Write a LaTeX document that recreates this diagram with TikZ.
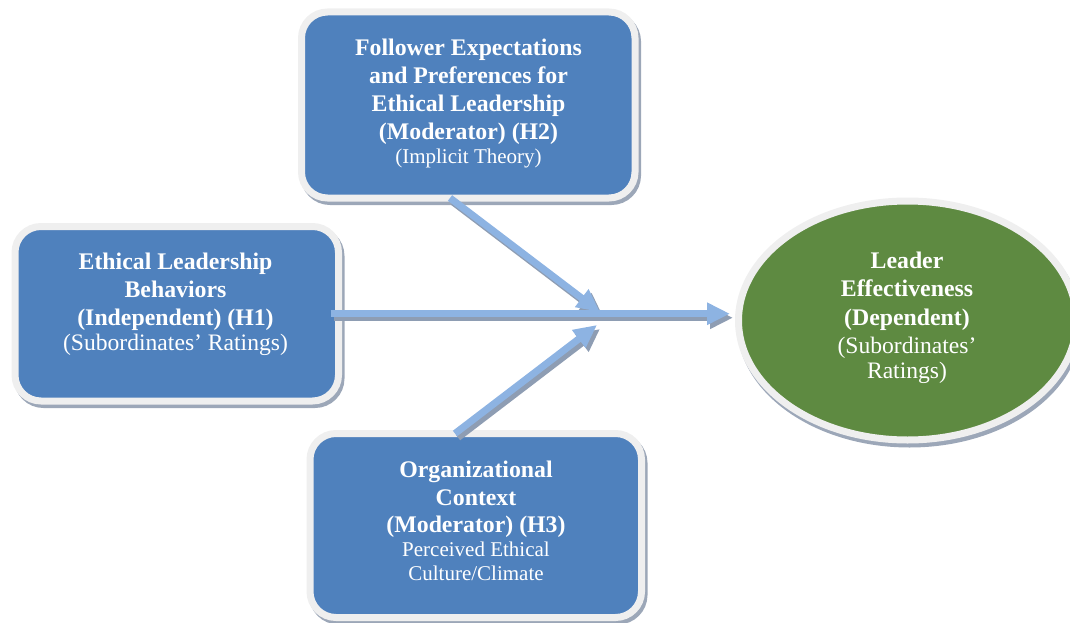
\documentclass[tikz,border=0pt]{standalone}
\usepackage{fontspec}
\setmainfont{Liberation Serif}
\usetikzlibrary{shapes.geometric,arrows.meta,backgrounds}

\definecolor{boxblue}{HTML}{4F81BD}
\definecolor{boxgreen}{HTML}{5E8A41}
\definecolor{rimgrey}{HTML}{EFEFEF}
\definecolor{shadegrey}{HTML}{9CA7B8}
\definecolor{arrowblue}{HTML}{8DB3E2}
\definecolor{arrowshade}{HTML}{8E9DB3}

\newcommand{\regline}{\mdseries\fontsize{21}{25}\selectfont}
\newcommand{\regbig}{\mdseries\fontsize{23.6}{28}\selectfont}

\tikzset{
  panel/.style={rectangle, rounded corners=26pt, fill=boxblue, draw=rimgrey,
    line width=7pt, outer sep=0pt, inner sep=0pt},
  panelshade/.style={fill=shadegrey, draw=shadegrey, line width=7pt, rounded corners=26pt},
  oval/.style={ellipse, fill=boxgreen, draw=rimgrey, line width=7pt,
    outer sep=0pt, inner sep=0pt},
  caption/.style={text=white, align=center, inner sep=0pt,
    font=\fontsize{23.8}{28}\selectfont\bfseries},
  flow/.style={draw=arrowblue, line width=7pt, -{Triangle[length=23pt,width=21pt]}},
  flowshade/.style={draw=arrowshade, line width=7pt, -{Triangle[length=23pt,width=21pt]}}
}

\begin{document}
\begin{tikzpicture}[x=1pt,y=-1pt]
\useasboundingbox (0,0) rectangle (1070,623);

% boxes and the outcome oval
\node[panel, minimum width=333.5pt, minimum height=186pt] (tb) at (468.25,105) {};
\node[panel, minimum width=323.5pt, minimum height=174.5pt] (lb) at (176.75,313.75) {};
\node[panel, minimum width=331.5pt, minimum height=184pt] (bb) at (475.75,525.5) {};
\node[oval, minimum width=338pt, minimum height=239pt] (le) at (907.5,320.5) {};

% soft drop shadows behind the shapes
\begin{scope}[on background layer]
  \foreach \b in {tb,lb,bb}{
    \path[panelshade] ([shift={(2.5,3.5)}]\b.south west) rectangle ([shift={(2.5,3.5)}]\b.north east);
  }
  \path[fill=shadegrey, draw=shadegrey, line width=7pt]
    ([shift={(2,4)}]le.center) ellipse [x radius=169pt, y radius=119.5pt];
\end{scope}

% texts
\node[caption] (tbt) at (468.5,103.4) {Follower Expectations\\and Preferences for\\Ethical Leadership\\(Moderator) (H2)\\[-3.5pt]{\regline (Implicit Theory)}};
\node[caption] (lbt) at (175.5,304.4) {Ethical Leadership\\Behaviors\\(Independent) (H1)\\[-2.5pt]{\regbig (Subordinates’ Ratings)}};
\node[caption] (bbt) at (476,521) {Organizational\\[-0.5pt]Context\\[-0.5pt](Moderator) (H3)\\[-4pt]{\regline Perceived Ethical}\\[-4pt]{\regline Culture/Climate}};
\node[caption] (let) at (907,317.3) {Leader\\[0.5pt]Effectiveness\\[0.5pt](Dependent)\\{\regbig (Subordinates’}\\[-3pt]{\regbig Ratings)}};

% meeting points of the moderator arrows
\coordinate (hubU) at (600,312);
\coordinate (hubL) at (597,325);

% arrow shadows
\draw[flowshade, shorten <=-8pt, shorten >=8.5pt]
  ([shift={(3,4)}]lb.east) -- ([shift={(3,4)}]lb.east -| le.west);
\draw[flowshade] ([shift={(-18.25,0)}]tb.south) ++(3,4) -- ([shift={(3,4)}]hubU);
\draw[flowshade] ([shift={(-20.75,0)}]bb.north) ++(3,4) -- ([shift={(3,4)}]hubL);

% arrows
\draw[flow, shorten <=-8pt, shorten >=8.5pt] (lb.east) -- (lb.east -| le.west);
\draw[flow] ([shift={(-18.25,0)}]tb.south) -- (hubU);
\draw[flow] ([shift={(-20.75,0)}]bb.north) -- (hubL);
\end{tikzpicture}
\end{document}
